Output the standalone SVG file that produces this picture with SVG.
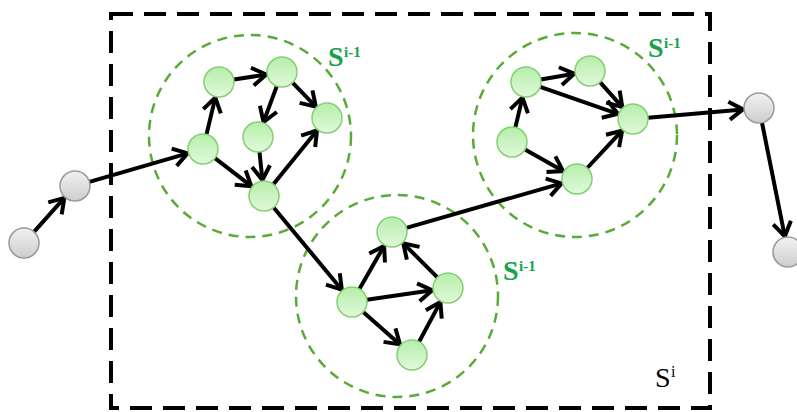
<svg xmlns="http://www.w3.org/2000/svg" width="797" height="412" viewBox="0 0 797 412">
  <style>
    .frame { fill: none; stroke: #000; stroke-width: 4; stroke-dasharray: 22 11; }
    .sub { fill: none; stroke: #5aab35; stroke-width: 2.5; stroke-dasharray: 10 7; }
    .edge { stroke: #000; stroke-width: 4; fill: none; marker-end: url(#arrow); }
    .node { fill: url(#greenFill); stroke: #86cf76; stroke-width: 1.5; }
    .ext { fill: url(#grayFill); stroke: #9a9a9a; stroke-width: 1.5; }
    .lbl { font-family: "Liberation Serif", "DejaVu Serif", serif; font-weight: bold; fill: #17a14c; }
    .lbl-top { font-family: "Liberation Serif", "DejaVu Serif", serif; fill: #000; }
  </style>
  <defs>
    <linearGradient id="greenFill" x1="0" y1="0" x2="0" y2="1">
      <stop offset="0" stop-color="#b6eeaa"/>
      <stop offset="1" stop-color="#e0f9db"/>
    </linearGradient>
    <linearGradient id="grayFill" x1="0" y1="0" x2="0" y2="1">
      <stop offset="0" stop-color="#f2f2f2"/>
      <stop offset="1" stop-color="#cdcdcd"/>
    </linearGradient>
    <marker id="arrow" markerUnits="userSpaceOnUse" markerWidth="26" markerHeight="26" viewBox="0 0 26 26" refX="20" refY="13" orient="auto">
      <path d="M6,4 L20,13 L6,22" fill="none" stroke="#000" stroke-width="4" stroke-linejoin="miter"/>
    </marker>
  </defs>

  <!-- outer level S^i -->
  <rect class="frame" x="111" y="14" width="599" height="394"/>

  <!-- sub-level boundaries S^(i-1) -->
  <circle class="sub" cx="250" cy="136" r="101"/>
  <circle class="sub" cx="397" cy="296" r="101"/>
  <circle class="sub" cx="575" cy="135" r="102"/>

  <g id="connectors">
    <line class="edge" x1="34" y1="231.8" x2="64.3" y2="197.9"/>
    <line class="edge" x1="89.4" y1="181.8" x2="187.6" y2="153.4"/>
    <line class="edge" x1="206.5" y1="134.4" x2="215.3" y2="97.6"/>
    <line class="edge" x1="233.8" y1="79.6" x2="266.2" y2="74.5"/>
    <line class="edge" x1="276.8" y1="86.1" x2="263.5" y2="122"/>
    <line class="edge" x1="292.5" y1="82.7" x2="315.8" y2="106.6"/>
    <line class="edge" x1="259.5" y1="151.9" x2="262.4" y2="180.1"/>
    <line class="edge" x1="214.9" y1="158.2" x2="251.3" y2="186.2"/>
    <line class="edge" x1="273.4" y1="184.3" x2="317" y2="130.4"/>
    <line class="edge" x1="273.6" y1="207.5" x2="341.8" y2="289.7"/>
    <line class="edge" x1="359.4" y1="289" x2="384.1" y2="245.9"/>
    <line class="edge" x1="366.8" y1="299.8" x2="432.2" y2="290.3"/>
    <line class="edge" x1="363.2" y1="311.9" x2="400" y2="344.4"/>
    <line class="edge" x1="419.1" y1="341.8" x2="440.4" y2="302.1"/>
    <line class="edge" x1="437.4" y1="277.4" x2="403.3" y2="243.3"/>
    <line class="edge" x1="406.4" y1="227.9" x2="561.6" y2="183.4"/>
    <line class="edge" x1="515.4" y1="127.4" x2="522.4" y2="97.6"/>
    <line class="edge" x1="540.8" y1="79.5" x2="574.2" y2="73.7"/>
    <line class="edge" x1="540.2" y1="86.9" x2="617.9" y2="113.8"/>
    <line class="edge" x1="600" y1="82.2" x2="622.3" y2="107.1"/>
    <line class="edge" x1="525" y1="149.4" x2="563.1" y2="171.1"/>
    <line class="edge" x1="587.2" y1="168" x2="622.1" y2="130.7"/>
    <line class="edge" x1="648" y1="117.7" x2="743.1" y2="109.4"/>
    <line class="edge" x1="762" y1="122.7" x2="784.8" y2="236.3"/>
  </g>

  <!-- outside vertices -->
  <g id="x1"><circle class="ext" cx="24" cy="243" r="15"/></g>
  <g id="x2"><circle class="ext" cx="75" cy="186" r="15"/></g>
  <g id="x3"><circle class="ext" cx="759" cy="108" r="15"/></g>
  <g id="x4"><circle class="ext" cx="788" cy="252" r="15"/></g>

  <!-- first sub-graph -->
  <g id="a1"><circle class="node" cx="219" cy="82" r="15"/></g>
  <g id="a2"><circle class="node" cx="282" cy="72" r="15"/></g>
  <g id="a3"><circle class="node" cx="327" cy="118" r="15"/></g>
  <g id="a4"><circle class="node" cx="258" cy="137" r="15"/></g>
  <g id="a5"><circle class="node" cx="203" cy="149" r="15"/></g>
  <g id="a6"><circle class="node" cx="264" cy="196" r="15"/></g>

  <!-- second sub-graph -->
  <g id="b1"><circle class="node" cx="392" cy="232" r="15"/></g>
  <g id="b2"><circle class="node" cx="352" cy="302" r="15"/></g>
  <g id="b3"><circle class="node" cx="448" cy="288" r="15"/></g>
  <g id="b4"><circle class="node" cx="412" cy="355" r="15"/></g>

  <!-- third sub-graph -->
  <g id="c1"><circle class="node" cx="526" cy="82" r="15"/></g>
  <g id="c2"><circle class="node" cx="590" cy="71" r="15"/></g>
  <g id="c3"><circle class="node" cx="633" cy="119" r="15"/></g>
  <g id="c4"><circle class="node" cx="512" cy="142" r="15"/></g>
  <g id="c5"><circle class="node" cx="577" cy="179" r="15"/></g>

  <!-- labels -->
  <text class="lbl" x="328" y="66" font-size="28">S<tspan x="344" y="57" font-size="15">i-1</tspan></text>
  <text class="lbl" x="648" y="57" font-size="28">S<tspan x="664" y="48" font-size="15">i-1</tspan></text>
  <text class="lbl" x="503" y="280" font-size="28">S<tspan x="519" y="271" font-size="15">i-1</tspan></text>
  <text class="lbl-top" x="655" y="387" font-size="28">S<tspan x="671" y="377" font-size="16">i</tspan></text>
</svg>
